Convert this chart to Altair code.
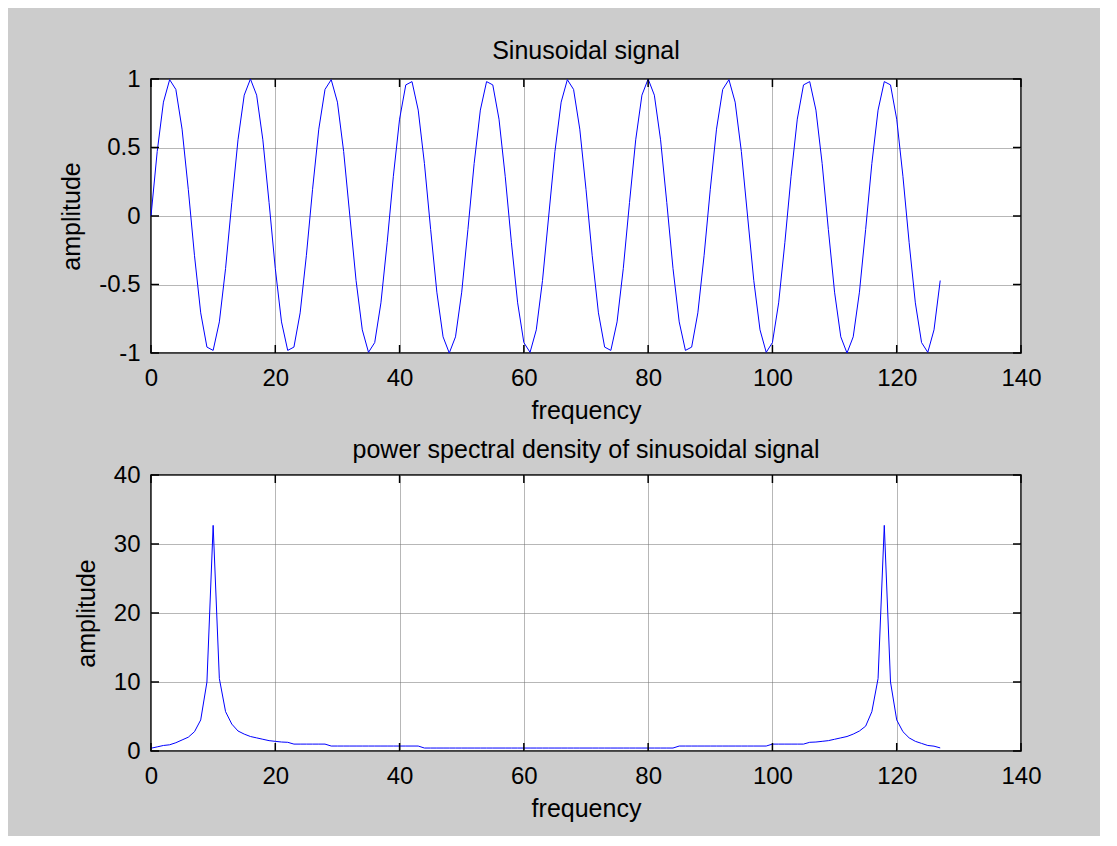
import altair as alt
import pandas as pd

# ---- data ----
sample_index = list(range(128))
signal = [
    0.000, 0.471, 0.831, 0.995, 0.924, 0.634, 0.195, -0.290, -0.707, -0.957,
    -0.981, -0.773, -0.383, 0.098, 0.556, 0.882, 1.000, 0.882, 0.556, 0.098,
    -0.383, -0.773, -0.981, -0.957, -0.707, -0.290, 0.195, 0.634, 0.924, 0.995,
    0.831, 0.471, 0.000, -0.471, -0.831, -0.995, -0.924, -0.634, -0.195, 0.290,
    0.707, 0.957, 0.981, 0.773, 0.383, -0.098, -0.556, -0.882, -1.000, -0.882,
    -0.556, -0.098, 0.383, 0.773, 0.981, 0.957, 0.707, 0.290, -0.195, -0.634,
    -0.924, -0.995, -0.831, -0.471,
    0.000, 0.471, 0.831, 0.995, 0.924, 0.634, 0.195, -0.290, -0.707, -0.957,
    -0.981, -0.773, -0.383, 0.098, 0.556, 0.882, 1.000, 0.882, 0.556, 0.098,
    -0.383, -0.773, -0.981, -0.957, -0.707, -0.290, 0.195, 0.634, 0.924, 0.995,
    0.831, 0.471, 0.000, -0.471, -0.831, -0.995, -0.924, -0.634, -0.195, 0.290,
    0.707, 0.957, 0.981, 0.773, 0.383, -0.098, -0.556, -0.882, -1.000, -0.882,
    -0.556, -0.098, 0.383, 0.773, 0.981, 0.957, 0.707, 0.290, -0.195, -0.634,
    -0.924, -0.995, -0.831, -0.471,
]
psd = [
    0.40, 0.60, 0.80, 0.90, 1.20, 1.60, 2.00, 2.80, 4.50, 10.0,
    32.7, 10.5, 5.70, 3.90, 2.90, 2.45, 2.10, 1.90, 1.70, 1.50,
    1.40, 1.30, 1.26, 1.00, 1.00, 1.00, 1.00, 1.00, 1.00, 0.72,
    0.72, 0.72, 0.72, 0.72, 0.72, 0.72, 0.72, 0.72, 0.72, 0.72,
    0.72, 0.72, 0.72, 0.72, 0.43, 0.43, 0.43, 0.43, 0.43, 0.43,
    0.43, 0.43, 0.43, 0.43, 0.43, 0.43, 0.43, 0.43, 0.43, 0.43,
    0.43, 0.43, 0.43, 0.43, 0.43, 0.43, 0.43, 0.43, 0.43, 0.43,
    0.43, 0.43, 0.43, 0.43, 0.43, 0.43, 0.43, 0.43, 0.43, 0.43,
    0.43, 0.43, 0.43, 0.43, 0.43, 0.72, 0.72, 0.72, 0.72, 0.72,
    0.72, 0.72, 0.72, 0.72, 0.72, 0.72, 0.72, 0.72, 0.72, 0.72,
    1.00, 1.00, 1.00, 1.00, 1.00, 1.00, 1.26, 1.30, 1.40, 1.50,
    1.70, 1.90, 2.10, 2.45, 2.90, 3.60, 5.70, 10.5, 32.7, 10.0,
    4.50, 2.80, 1.90, 1.40, 1.10, 0.80, 0.70, 0.45,
]
x_ticks = [0, 20, 40, 60, 80, 100, 120, 140]
y_ticks_top = [-1, -0.5, 0, 0.5, 1]
y_ticks_bottom = [0, 10, 20, 30, 40]

titles = ["Sinusoidal signal", "power spectral density of sinusoidal signal"]
x_title = "frequency"
y_title = "amplitude"

FONT = "Liberation Sans"
W = 870
TICK = 8


def panel(values, ydomain, yticks, title, H, title_offset):
    df = pd.DataFrame({"n": sample_index, "v": values})
    xs = alt.Scale(domain=[0, 140], nice=False, zero=False)
    ys = alt.Scale(domain=ydomain, nice=False, zero=False)
    xaxis = alt.Axis(values=x_ticks, title=x_title, grid=True, ticks=False, domain=False,
                     labelFlush=False, labelPadding=13, titlePadding=8,
                     labelFontSize=24, titleFontSize=25, labelFont=FONT, titleFont=FONT,
                     labelColor="black", titleColor="black", titleFontWeight="normal",
                     gridColor="#6e6e6e", gridDash=[1, 1], gridWidth=1,
                     labelExpr="toString(datum.value)")
    yaxis = alt.Axis(values=yticks, title=y_title, grid=True, ticks=False, domain=False,
                     labelFlush=False, labelPadding=11, titlePadding=14,
                     labelFontSize=24, titleFontSize=25, labelFont=FONT, titleFont=FONT,
                     labelColor="black", titleColor="black", titleFontWeight="normal",
                     gridColor="#6e6e6e", gridDash=[1, 1], gridWidth=1,
                     labelExpr="toString(datum.value)")
    line = alt.Chart(df).mark_line(color="#0000ff", strokeWidth=1).encode(
        x=alt.X("n:Q", scale=xs, axis=xaxis),
        y=alt.Y("v:Q", scale=ys, axis=yaxis),
    )
    xt = pd.DataFrame({"n": x_ticks})
    yt = pd.DataFrame({"v": yticks})
    tick_style = dict(color="black", strokeWidth=1.5)
    xt_top = alt.Chart(xt).mark_rule(**tick_style).encode(
        x=alt.X("n:Q", scale=xs, axis=xaxis), y=alt.value(0), y2=alt.value(TICK))
    xt_bot = alt.Chart(xt).mark_rule(**tick_style).encode(
        x=alt.X("n:Q", scale=xs, axis=xaxis), y=alt.value(H - TICK), y2=alt.value(H))
    yt_left = alt.Chart(yt).mark_rule(**tick_style).encode(
        y=alt.Y("v:Q", scale=ys, axis=yaxis), x=alt.value(0), x2=alt.value(TICK))
    yt_right = alt.Chart(yt).mark_rule(**tick_style).encode(
        y=alt.Y("v:Q", scale=ys, axis=yaxis), x=alt.value(W - TICK), x2=alt.value(W))
    return alt.layer(line, xt_top, xt_bot, yt_left, yt_right).properties(
        width=W, height=H,
        title=alt.TitleParams(title, fontSize=25, font=FONT, fontWeight="normal", color="black",
                              anchor="middle", frame="group", baseline="alphabetic",
                              offset=title_offset),
    )


top = panel(signal, [-1, 1], y_ticks_top, titles[0], 274, -17)
bottom = panel(psd, [0, 40], y_ticks_bottom, titles[1], 276, -20)

chart = alt.vconcat(top, bottom, spacing=13).properties(
    background="#cccccc",
    padding={"left": 50, "top": 30, "right": 58, "bottom": 14},
).configure_view(fill="white", stroke="black", strokeWidth=1.5)

chart.save("out.html", embed_options={"renderer": "svg", "actions": False})
